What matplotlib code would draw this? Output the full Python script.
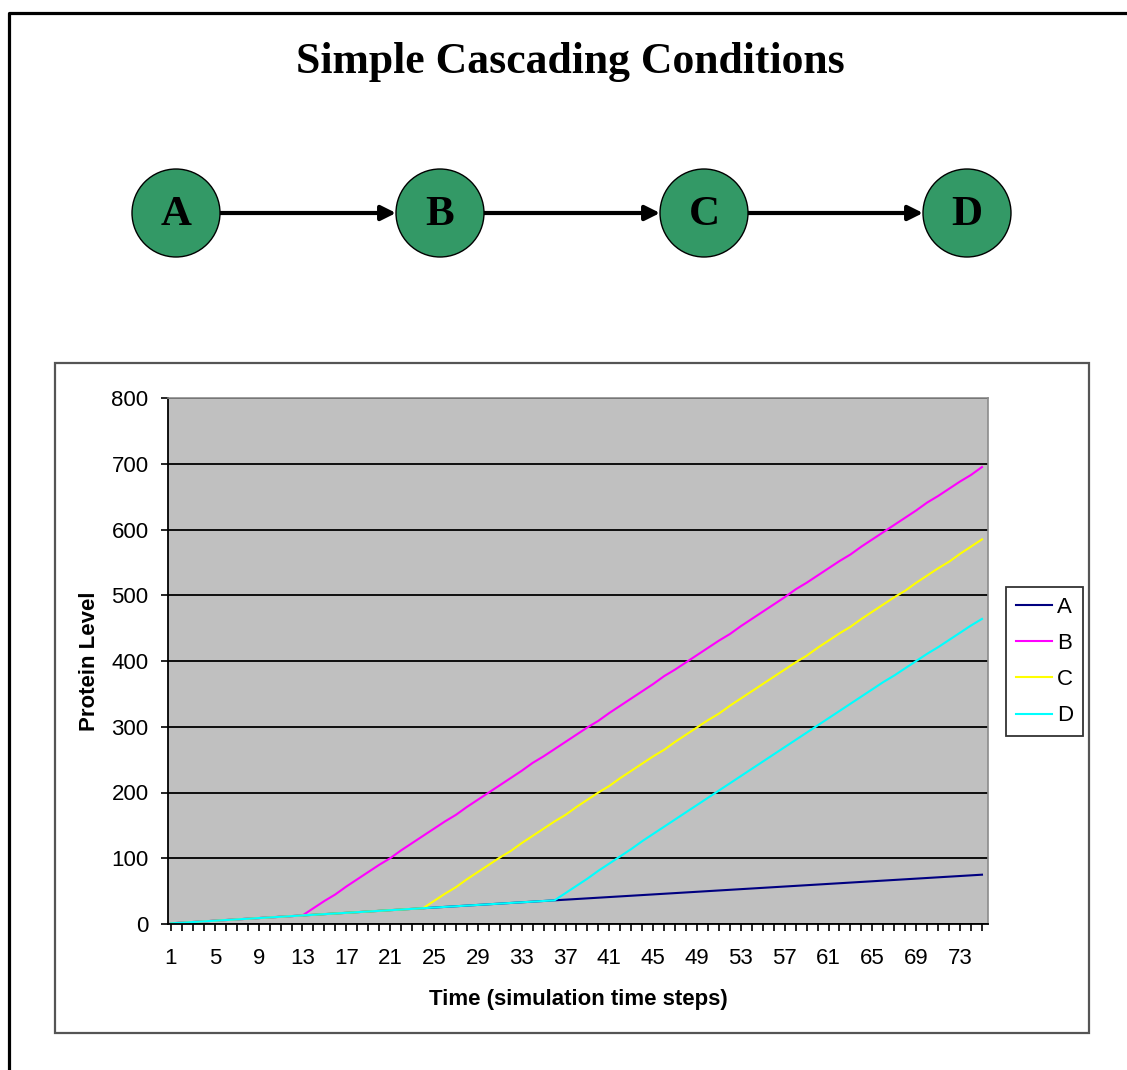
import matplotlib.pyplot as plt
from matplotlib.patches import Circle, Rectangle, FancyArrowPatch

# protein levels per simulation time step
steps = list(range(1, 76))

A = [1, 2, 3, 4, 5, 6, 7, 8, 9, 10, 11, 12, 13, 14, 15, 16, 17, 18, 19, 20,
     21, 22, 23, 24, 25, 26, 27, 28, 29, 30, 31, 32, 33, 34, 35, 36, 37, 38, 39, 40,
     41, 42, 43, 44, 45, 46, 47, 48, 49, 50, 51, 52, 53, 54, 55, 56, 57, 58, 59, 60,
     61, 62, 63, 64, 65, 66, 67, 68, 69, 70, 71, 72, 73, 74, 75]

# B switches on at step 13, C at 24, D at 36 (before that they follow A)
B_on = [13, 24, 35, 45, 57, 68, 79, 90, 100, 112, 123, 134, 145, 156, 166, 178,
        189, 200, 211, 222, 233, 245, 255, 266, 277, 288, 299, 309, 321, 332, 343,
        354, 365, 377, 387, 398, 409, 420, 431, 441, 453, 464, 475, 486, 497, 509,
        519, 530, 541, 552, 562, 574, 585, 596, 607, 618, 629, 641, 651, 662, 673,
        683, 695]
C_on = [24, 35, 46, 56, 68, 79, 90, 101, 111, 123, 134, 145, 156, 166, 178, 189,
        200, 210, 222, 233, 244, 255, 265, 277, 288, 299, 310, 320, 332, 343, 354,
        365, 376, 387, 398, 408, 420, 431, 442, 452, 464, 475, 486, 497, 507, 519,
        530, 541, 551, 563, 574, 585]
D_on = [36, 47, 58, 69, 81, 92, 103, 114, 126, 137, 148, 159, 170, 181, 192, 203,
        214, 225, 236, 247, 258, 269, 280, 291, 302, 313, 324, 335, 346, 357, 368,
        378, 389, 400, 411, 421, 432, 443, 454, 464]

B = A[:12] + B_on
C = A[:23] + C_on
D = A[:35] + D_on

series = [("A", A, "#000080"), ("B", B, "#FF00FF"),
          ("C", C, "#FFFF00"), ("D", D, "#00FFFF")]

nodes = ["A", "B", "C", "D"]
node_x = [176, 440, 704, 967]

W, H = 1127, 1070
fig = plt.figure(figsize=(W / 100, H / 100), dpi=100)

# page layer in pixel coordinates: frame, title and the cascade diagram
page = fig.add_axes([0, 0, 1, 1])
page.set_xlim(0, W)
page.set_ylim(H, 0)
page.axis("off")

page.plot([8.5, 8.5, W], [H, 12.5, 12.5], color="black", lw=2.3,
          solid_capstyle="butt")
page.text(570, 62, "Simple Cascading Conditions", ha="center", va="center",
          fontsize=31.5, fontweight="bold", family="Liberation Serif")

cy = 213
r = 44
for i, (name, x) in enumerate(zip(nodes, node_x)):
    page.add_patch(Circle((x, cy), r, facecolor="#339966", edgecolor="black",
                          lw=1.0, zorder=3))
    page.text(x, cy + 2, name, ha="center", va="center", fontsize=31,
              fontweight="bold", family="Liberation Serif", zorder=4)
    if i < len(nodes) - 1:
        arr = FancyArrowPatch((x + r, cy), (node_x[i + 1] - r, cy),
                              arrowstyle="-|>", mutation_scale=22, lw=3,
                              color="black", shrinkA=0, shrinkB=0, zorder=2)
        page.add_patch(arr)

# chart area frame
page.add_patch(Rectangle((54.5, 362.5), 1034, 670, facecolor="none",
                         edgecolor="#555555", lw=1.6))

# plot area
left, right, top, bottom = 168, 988, 398, 924
ax = fig.add_axes([left / W, 1 - bottom / H, (right - left) / W, (bottom - top) / H])
ax.set_facecolor("#C0C0C0")

for name, vals, col in series:
    ax.plot(steps, vals, color=col, lw=1.5, label=name)

ax.set_xlim(0.73, 75.55)
ax.set_ylim(0, 800)
ax.set_yticks(range(0, 801, 100))
ax.set_xticks(steps, minor=True)
ax.set_xticks(steps[::4])
ax.grid(axis="y", color="black", lw=1.3)
ax.set_axisbelow(True)

for s in ("top", "right"):
    ax.spines[s].set_color("#8c8c8c")
    ax.spines[s].set_linewidth(1.2)
for s in ("left", "bottom"):
    ax.spines[s].set_color("black")
    ax.spines[s].set_linewidth(1.3)

ax.tick_params(axis="both", which="both", direction="out", length=5,
               width=1.2, color="black")
ax.tick_params(axis="x", which="major", pad=12)
ax.tick_params(axis="y", pad=9)
for lab in ax.get_xticklabels() + ax.get_yticklabels():
    lab.set_fontproperties("Liberation Sans")
    lab.set_fontsize(16)

ax.set_xlabel("Time (simulation time steps)", fontsize=16, fontweight="bold",
              family="Liberation Sans", labelpad=15)
ax.set_ylabel("Protein Level", fontsize=16, fontweight="bold",
              family="Liberation Sans", labelpad=8)

leg = fig.legend(loc="upper left", bbox_to_anchor=(1006 / W, 1 - 587 / H),
                 frameon=True, fancybox=False, edgecolor="black",
                 prop={"family": "Liberation Sans", "size": 16},
                 handlelength=1.6, handletextpad=0.25, labelspacing=0.68,
                 borderpad=0.45, borderaxespad=0)
leg.get_frame().set_linewidth(1.3)

fig.savefig("out.png", dpi=100, facecolor="white")
